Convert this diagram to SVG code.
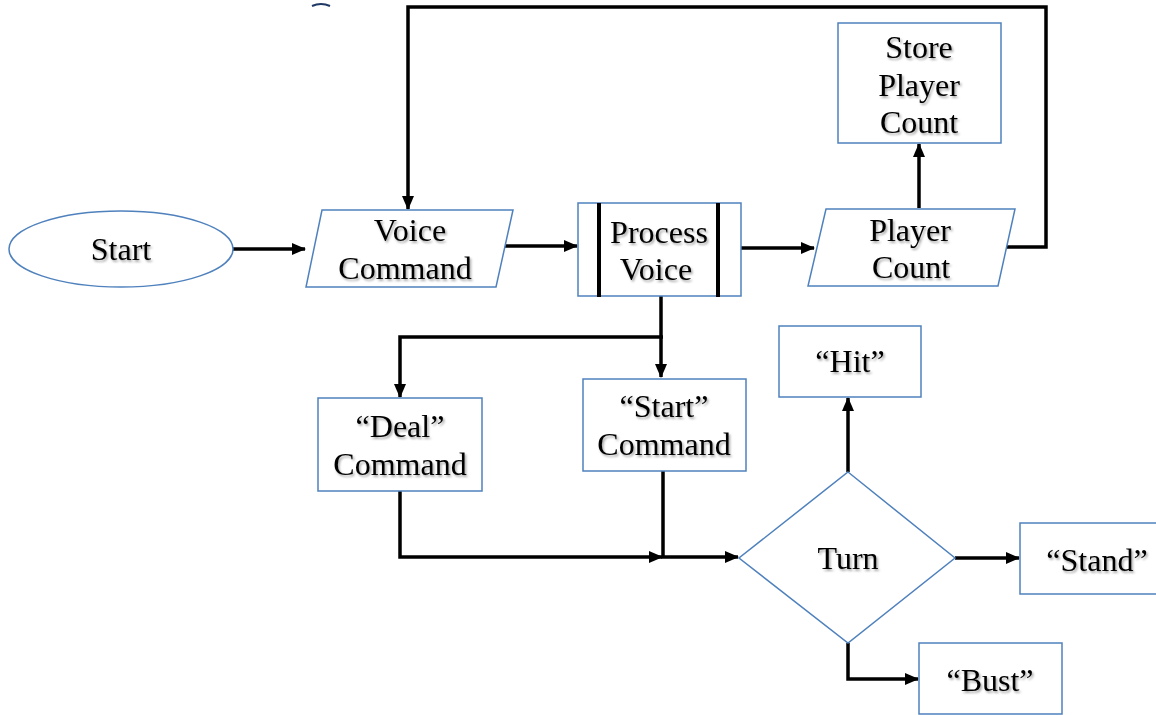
<svg xmlns="http://www.w3.org/2000/svg" width="1156" height="715" viewBox="0 0 1156 715">
<style>
.n{fill:#fff;stroke:#4f81bd;stroke-width:1.5}
.t{font-family:"Liberation Serif","Times New Roman",serif;font-size:32px;fill:#000;text-anchor:middle;filter:url(#sh)}
.c{fill:none;stroke:#000;stroke-width:3.5;stroke-linejoin:miter}
.bar{stroke:#000;stroke-width:4}
</style>
<defs>
<marker id="a" markerUnits="userSpaceOnUse" markerWidth="15" markerHeight="12" refX="13" refY="6" orient="auto">
<path d="M0,0 L14,6 L0,12 Z" fill="#000"/>
</marker>
<filter id="sh" x="-10%" y="-20%" width="130%" height="150%">
<feDropShadow dx="1.5" dy="2" stdDeviation="1.2" flood-color="#000" flood-opacity="0.35"/>
</filter>
</defs>
<rect width="1156" height="715" fill="#fff"/>
<path d="M312,6 Q321,2 330,6" fill="none" stroke="#1f3864" stroke-width="2"/>
<g id="connectors">
<path class="c" d="M233,249 L305,249" marker-end="url(#a)"/>
<path class="c" d="M505,246 L577,246" marker-end="url(#a)"/>
<path class="c" d="M741,248 L814,248" marker-end="url(#a)"/>
<path class="c" d="M919,208 L919,144" marker-end="url(#a)"/>
<path class="c" d="M1004,247 L1046,247 L1046,7 L408,7 L408,209" marker-end="url(#a)"/>
<path class="c" d="M661,296 L661,377" marker-end="url(#a)"/>
<path class="c" d="M663,337 L400,337 L400,397" marker-end="url(#a)"/>
<path class="c" d="M400,491 L400,557 L662,557" marker-end="url(#a)"/>
<path class="c" d="M663,471 L663,557 L738,557" marker-end="url(#a)"/>
<path class="c" d="M848,472 L848,398" marker-end="url(#a)"/>
<path class="c" d="M955,558 L1019,558" marker-end="url(#a)"/>
<path class="c" d="M848,643 L848,679 L918,679" marker-end="url(#a)"/>
</g>
<g id="start"><ellipse class="n" cx="121" cy="249" rx="112" ry="38"/><text class="t" x="121" y="260">Start</text></g>
<g id="voice-command"><polygon class="n" points="322,210 513,210 496,287 306,287"/><text class="t" x="410" y="241">Voice</text><text class="t" x="405" y="279">Command</text></g>
<g id="process-voice"><rect class="n" x="578" y="203" width="163" height="93"/><line class="bar" x1="599" y1="203" x2="599" y2="297"/><line class="bar" x1="718" y1="203" x2="718" y2="297"/><text class="t" x="659" y="243">Process</text><text class="t" x="656" y="280">Voice</text></g>
<g id="player-count"><polygon class="n" points="826,209 1015,209 998,286 808,286"/><text class="t" x="910" y="241">Player</text><text class="t" x="911" y="278">Count</text></g>
<g id="store-player-count"><rect class="n" x="838" y="23" width="163" height="120"/><text class="t" x="919" y="58">Store</text><text class="t" x="919" y="96">Player</text><text class="t" x="919" y="133">Count</text></g>
<g id="deal-command"><rect class="n" x="318" y="398" width="164" height="93"/><text class="t" x="400" y="437">“Deal”</text><text class="t" x="400" y="475">Command</text></g>
<g id="start-command"><rect class="n" x="583" y="379" width="163" height="92"/><text class="t" x="664" y="417">“Start”</text><text class="t" x="664" y="455">Command</text></g>
<g id="hit"><rect class="n" x="779" y="326" width="142" height="71"/><text class="t" x="850" y="372">“Hit”</text></g>
<g id="turn"><polygon class="n" points="848,472 955,558 848,643 739,558"/><text class="t" x="848" y="569">Turn</text></g>
<g id="stand"><rect class="n" x="1020" y="523" width="140" height="71"/><text class="t" x="1097" y="571">“Stand”</text></g>
<g id="bust"><rect class="n" x="919" y="643" width="143" height="71"/><text class="t" x="990" y="691">“Bust”</text></g>
</svg>
